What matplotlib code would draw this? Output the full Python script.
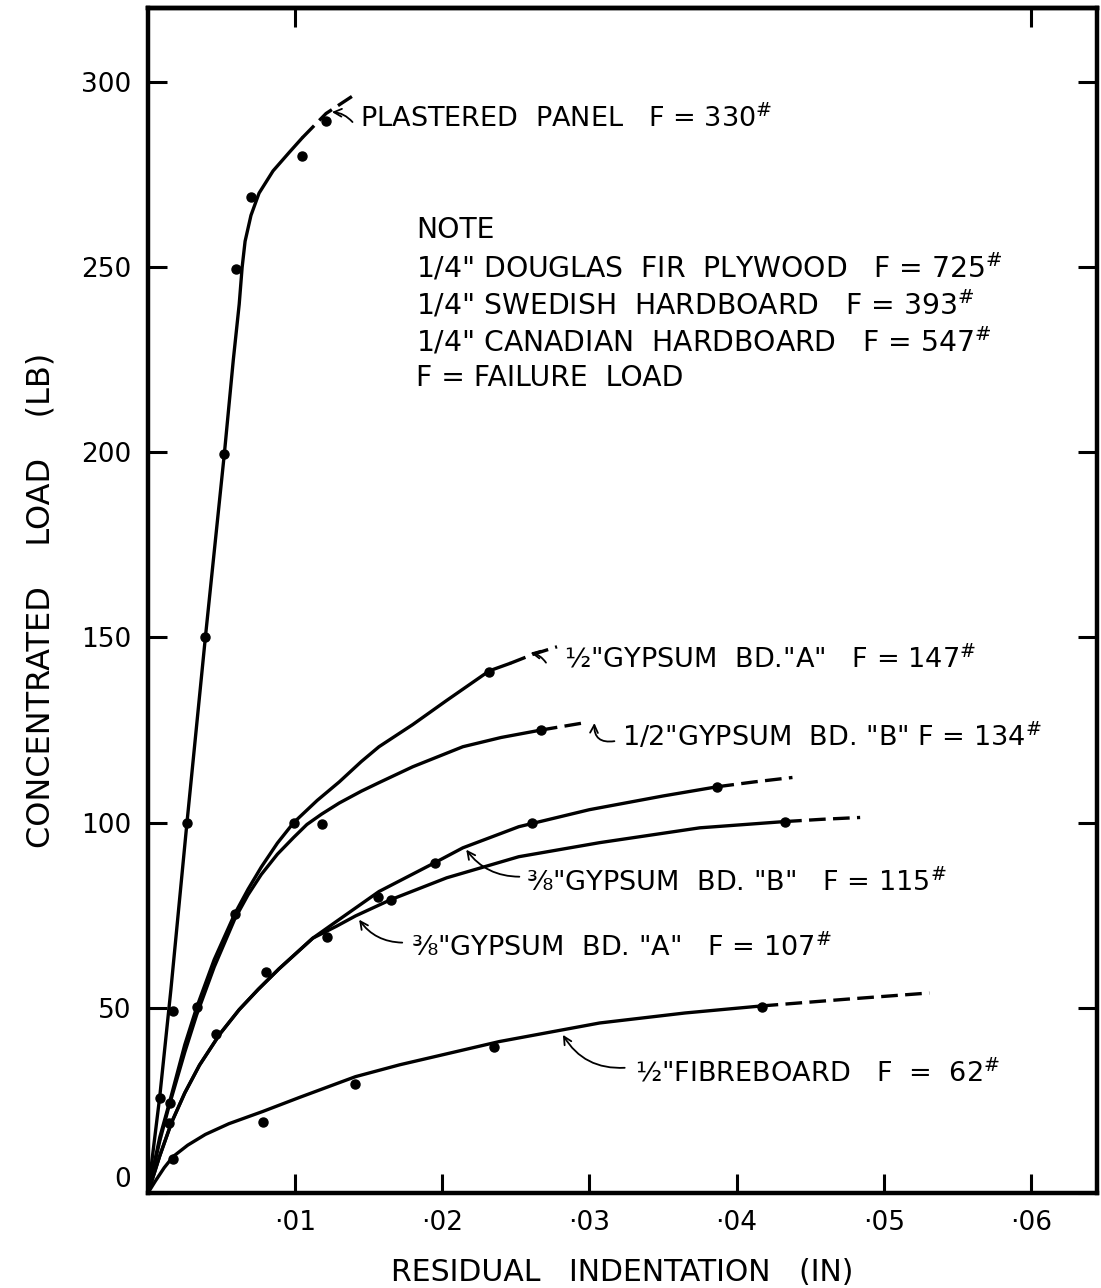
import matplotlib
matplotlib.use("Agg")
import matplotlib.pyplot as plt

# --- curves: x = residual indentation (in), y = load (lb) ---
plaster_x = [0, 0.0008, 0.00156, 0.00265, 0.0039, 0.0052, 0.0058, 0.0062, 0.0064, 0.0066,
             0.0070, 0.00755, 0.0085, 0.0096, 0.0105]
plaster_y = [0, 26, 55, 100, 150, 200, 225, 240, 250, 257, 264, 270, 276, 281, 285]
plaster_dash_x = [0.0105, 0.0121, 0.0142]
plaster_dash_y = [285, 291.5, 297]

gyp12a_x = [0, 0.0008, 0.0015, 0.0025, 0.0033, 0.0045, 0.0059, 0.0068, 0.0077, 0.0088, 0.0099,
            0.0115, 0.013, 0.0145, 0.0157, 0.018, 0.0203, 0.0232, 0.0246]
gyp12a_y = [0, 15, 25, 40, 50, 63, 75.4, 82, 88, 94.5, 100, 106, 111, 116.5, 120.5, 126.5, 133,
            141, 143]
gyp12a_dash_x = [0.0246, 0.0262, 0.0278]
gyp12a_dash_y = [143, 145.5, 147.5]

gyp12b_x = [0, 0.0008, 0.0014, 0.0025, 0.0033, 0.0045, 0.0059, 0.0068, 0.0077, 0.0088, 0.0099,
            0.0108, 0.0118, 0.013, 0.0145, 0.0157, 0.018, 0.0214, 0.024, 0.0267]
gyp12b_y = [0, 14, 23, 38, 48, 61, 74, 80.5, 86, 91.5, 96, 99.5, 102.3, 105.3, 108.5, 110.8,
            115.1, 120.5, 123, 125]
gyp12b_dash_x = [0.0267, 0.0282, 0.0297]
gyp12b_dash_y = [125, 126, 127]

gyp38b_x = [0, 0.0008, 0.0016, 0.0025, 0.0035, 0.0049, 0.0062, 0.0075, 0.0089, 0.0112, 0.0128,
            0.0157, 0.0195, 0.0214, 0.0252, 0.03, 0.035, 0.0387]
gyp38b_y = [0, 10, 19, 27, 34.5, 43, 49.5, 55, 60.5, 68.8, 73.3, 81.4, 89.2, 93.2, 98.9, 103.5,
            107.2, 109.7]
gyp38b_dash_x = [0.0387, 0.0412, 0.0438]
gyp38b_dash_y = [109.7, 111, 112.2]

gyp38a_x = [0, 0.0008, 0.0016, 0.0025, 0.0035, 0.0049, 0.0062, 0.0075, 0.0089, 0.0112, 0.0128,
            0.0141, 0.0165, 0.0203, 0.0252, 0.0307, 0.0375, 0.0433]
gyp38a_y = [0, 10, 19, 27, 34.5, 43, 49.5, 55, 60.5, 68.8, 72, 74.8, 79.2, 85.1, 90.8, 94.6,
            98.6, 100.3]
gyp38a_dash_x = [0.0433, 0.0458, 0.0484]
gyp38a_dash_y = [100.3, 100.9, 101.4]

fibre_x = [0, 0.0005, 0.0011, 0.0017, 0.0027, 0.0039, 0.0055, 0.0078, 0.0103, 0.0141, 0.0171,
           0.0239, 0.0307, 0.0365, 0.0417]
fibre_y = [0, 3.2, 6.8, 9.8, 12.9, 15.8, 18.7, 22, 25.8, 31.4, 34.6, 40.9, 45.9, 48.6, 50.5]
fibre_dash_x = [0.0417, 0.0474, 0.0531]
fibre_dash_y = [50.5, 52.3, 54]

# --- measured points (dots) ---
dots_x = [0.0008, 0.0017, 0.00265, 0.0039, 0.0052, 0.006, 0.007, 0.0105, 0.0121,
          0.0015, 0.0033, 0.0059, 0.0099, 0.0232,
          0.0014, 0.0118, 0.0267,
          0.008, 0.0195, 0.0261, 0.0387,
          0.0046, 0.0122, 0.0156, 0.0165, 0.0433,
          0.0017, 0.0078, 0.0141, 0.0235, 0.0417]
dots_y = [25.6, 49, 100, 150, 199.5, 249.5, 269, 280, 289.5,
          24.3, 50.3, 75.4, 100, 140.8,
          19, 99.5, 125,
          59.7, 89.2, 100, 109.7,
          43, 69, 80, 79.2, 100.3,
          9.2, 19.2, 29.5, 39.5, 50.3]

xticks = [0.01, 0.02, 0.03, 0.04, 0.05, 0.06]
xtick_labels = ["\u00b701", "\u00b702", "\u00b703", "\u00b704", "\u00b705", "\u00b706"]
yticks = [0, 50, 100, 150, 200, 250, 300]

note_lines = ["NOTE",
              '1/4" DOUGLAS  FIR  PLYWOOD   F = 725$^{\\#}$',
              '1/4" SWEDISH  HARDBOARD   F = 393$^{\\#}$',
              '1/4" CANADIAN  HARDBOARD   F = 547$^{\\#}$',
              "F = FAILURE  LOAD"]

plt.rcParams['font.family'] = ['DejaVu Sans']
fig = plt.figure(figsize=(11.01, 12.88), dpi=100)
ax = fig.add_axes([0.1344, 0.0738, 0.862, 0.920])

lw = 2.4
dash = (5, 2.2)
solid = [(plaster_x, plaster_y), (gyp12a_x, gyp12a_y), (gyp12b_x, gyp12b_y),
         (gyp38b_x, gyp38b_y), (gyp38a_x, gyp38a_y), (fibre_x, fibre_y)]
dashed = [(plaster_dash_x, plaster_dash_y), (gyp12a_dash_x, gyp12a_dash_y),
          (gyp12b_dash_x, gyp12b_dash_y), (gyp38b_dash_x, gyp38b_dash_y),
          (gyp38a_dash_x, gyp38a_dash_y), (fibre_dash_x, fibre_dash_y)]
for xs, ys in solid:
    ax.plot(xs, ys, color='black', lw=lw, solid_capstyle='round', solid_joinstyle='round')
for xs, ys in dashed:
    ax.plot(xs, ys, color='black', lw=lw, dashes=dash, dash_capstyle='butt')
ax.plot(dots_x, dots_y, 'o', color='black', ms=6.5, ls='none')

ax.set_xlim(0, 0.0645)
ax.set_ylim(0, 320)
ax.set_xticks(xticks)
ax.set_xticklabels(xtick_labels)
ax.set_yticks(yticks)
ax.tick_params(axis='both', direction='in', length=14, width=2.2, labelsize=19, pad=12)
ax.tick_params(axis='y', right=True)
ax.get_yticklabels()[0].set_verticalalignment('bottom')
top = ax.secondary_xaxis('top')
top.set_xticks([0.01, 0.06])
top.tick_params(direction='in', length=14, width=2.2, labeltop=False)
for side in ['left', 'right', 'top', 'bottom']:
    ax.spines[side].set_linewidth(3.2)
top.spines['top'].set_linewidth(3.2)

ax.set_xlabel("RESIDUAL   INDENTATION   (IN)", fontsize=21.5, labelpad=16)
ax.set_ylabel("CONCENTRATED    LOAD    (LB)", fontsize=23, labelpad=18)

# curve labels: text position, leader start, leader end (arrow tip), curvature
labels = [
    ('PLASTERED  PANEL   F = 330$^{\\#}$', (0.0144, 290), (0.0139, 289.2), (0.0125, 291.9), 0.2),
    ('\u00bd"GYPSUM  BD."A"   F = 147$^{\\#}$', (0.0283, 144), (0.02705, 143.2), (0.026, 145.9), 0.2),
    ('1/2"GYPSUM  BD. "B" F = 134$^{\\#}$', (0.0322, 123.2), (0.0317, 122), (0.03034, 126.9), -0.6),
    ('\u215c"GYPSUM  BD. "B"   F = 115$^{\\#}$', (0.0257, 83.8), (0.02524, 85.4), (0.02163, 92.7), -0.25),
    ('\u215c"GYPSUM  BD. "A"   F = 107$^{\\#}$', (0.0179, 66.2), (0.01728, 67.6), (0.01435, 73.8), -0.25),
    ('\u00bd"FIBREBOARD   F  =  62$^{\\#}$', (0.0331, 32.4), (0.0324, 33.8), (0.0282, 42.7), -0.3),
]
for text, pos, start, tip, rad in labels:
    ax.text(pos[0], pos[1], text, fontsize=19.5, ha='left', va='center')
    ax.annotate('', xy=tip, xytext=start,
                arrowprops=dict(arrowstyle='->', lw=1.3, color='black', shrinkA=0, shrinkB=0,
                                mutation_scale=14, connectionstyle='arc3,rad=%s' % rad))

for i, line in enumerate(note_lines):
    ax.text(0.01823, 260 - 10 * i, line, fontsize=20.3, ha='left', va='center')

fig.savefig("out.png", dpi=100)
